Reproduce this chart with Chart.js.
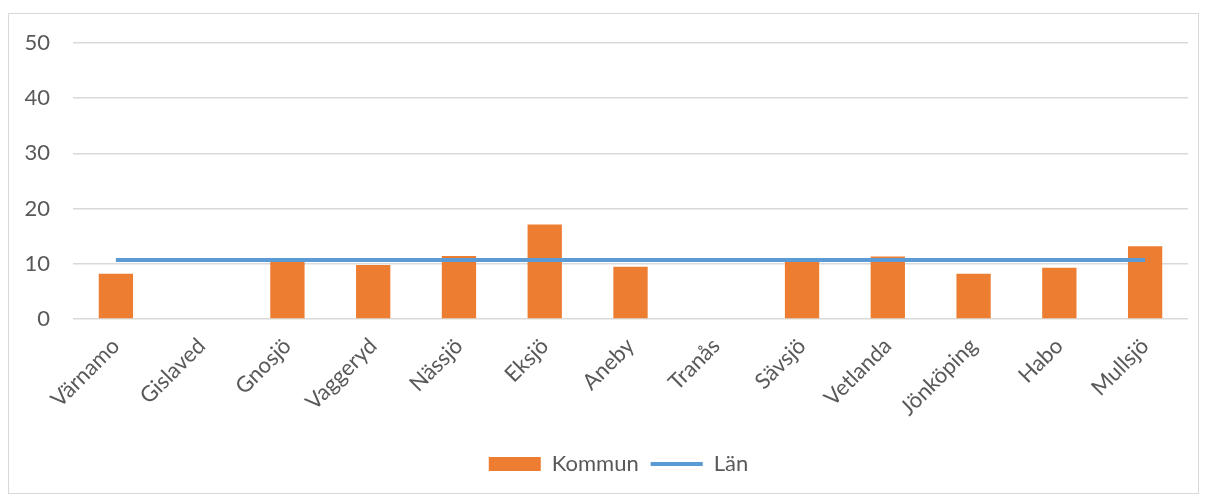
<!DOCTYPE html>
<html lang="sv">
<head>
<meta charset="UTF-8">
<title>Kommun / Län</title>
<script src="https://cdn.jsdelivr.net/npm/chart.js"></script>
<style>
    body { margin: 0; background: #fff; }
    .ram {
        position: absolute; left: 8px; top: 13px;
        width: 1191px; height: 481px;
        border: 1px solid #d9d9d9; box-sizing: border-box;
    }
</style>
</head>
<body>
<div class="ram"><canvas id="diagram"></canvas></div>
<script>
    // kommunerna längs x-axeln
    const kommuner = ['Värnamo', 'Gislaved', 'Gnosjö', 'Vaggeryd', 'Nässjö', 'Eksjö', 'Aneby',
        'Tranås', 'Sävsjö', 'Vetlanda', 'Jönköping', 'Habo', 'Mullsjö'];
    // staplar (Kommun), tomt där värde saknas
    const kommunVarden = [8.2, null, 10.5, 9.8, 11.4, 17.1, 9.45, null, 10.5, 11.3, 8.2, 9.3, 13.2];
    // länets nivå, samma för alla
    const lanVarden = [10.7, 10.7, 10.7, 10.7, 10.7, 10.7, 10.7, 10.7, 10.7, 10.7, 10.7, 10.7, 10.7];
    const yTicks = [0, 10, 20, 30, 40, 50];

    const textFarg = '#595959';
    const font = { family: 'Lato', size: 22 };

    // legenden sitter lite till höger om mitten i originalet
    const flyttaLegend = {
        id: 'flyttaLegend',
        afterLayout(chart) {
            chart.legend.left += 20;
            chart.legend.right += 20;
        }
    };

    new Chart(document.getElementById('diagram'), {
        type: 'bar',
        data: {
            labels: kommuner,
            datasets: [{
                label: 'Kommun',
                data: kommunVarden,
                backgroundColor: '#ed7d31',
                borderWidth: 0,
                barPercentage: 0.4,
                categoryPercentage: 1,
                pointStyle: 'rect',
                order: 1
            }, {
                type: 'line',
                label: 'Län',
                data: lanVarden,
                borderColor: '#5b9bd5',
                backgroundColor: '#5b9bd5',
                borderWidth: 4,
                pointRadius: 0,
                pointStyle: 'line',
                order: 0
            }]
        },
        options: {
            responsive: true,
            maintainAspectRatio: false,
            animation: false,
            layout: { padding: { top: 29, right: 10, bottom: 8, left: 0 } },
            scales: {
                x: {
                    grid: { display: false },
                    border: { display: false },
                    ticks: { color: textFarg, font: font, minRotation: 45, maxRotation: 45, padding: 6 },
                    afterFit: function (scale) { scale.height = 122; }
                },
                y: {
                    min: 0,
                    max: 50,
                    afterBuildTicks: function (scale) { scale.ticks = yTicks.map(v => ({ value: v })); },
                    grid: { color: '#d9d9d9', lineWidth: 1.5, drawTicks: false },
                    border: { display: false },
                    ticks: { color: textFarg, font: font, padding: 23 },
                    afterFit: function (scale) {
                        scale.width = 64;
                        scale.paddingTop = 0;
                        scale.paddingBottom = 0;
                    }
                }
            },
            plugins: {
                tooltip: { enabled: false },
                legend: {
                    position: 'bottom',
                    labels: {
                        color: textFarg,
                        font: font,
                        usePointStyle: true,
                        pointStyleWidth: 52,
                        boxHeight: 14,
                        padding: 12,
                        sort: (a, b) => a.datasetIndex - b.datasetIndex
                    }
                }
            }
        },
        plugins: [flyttaLegend]
    });
</script>
</body>
</html>
